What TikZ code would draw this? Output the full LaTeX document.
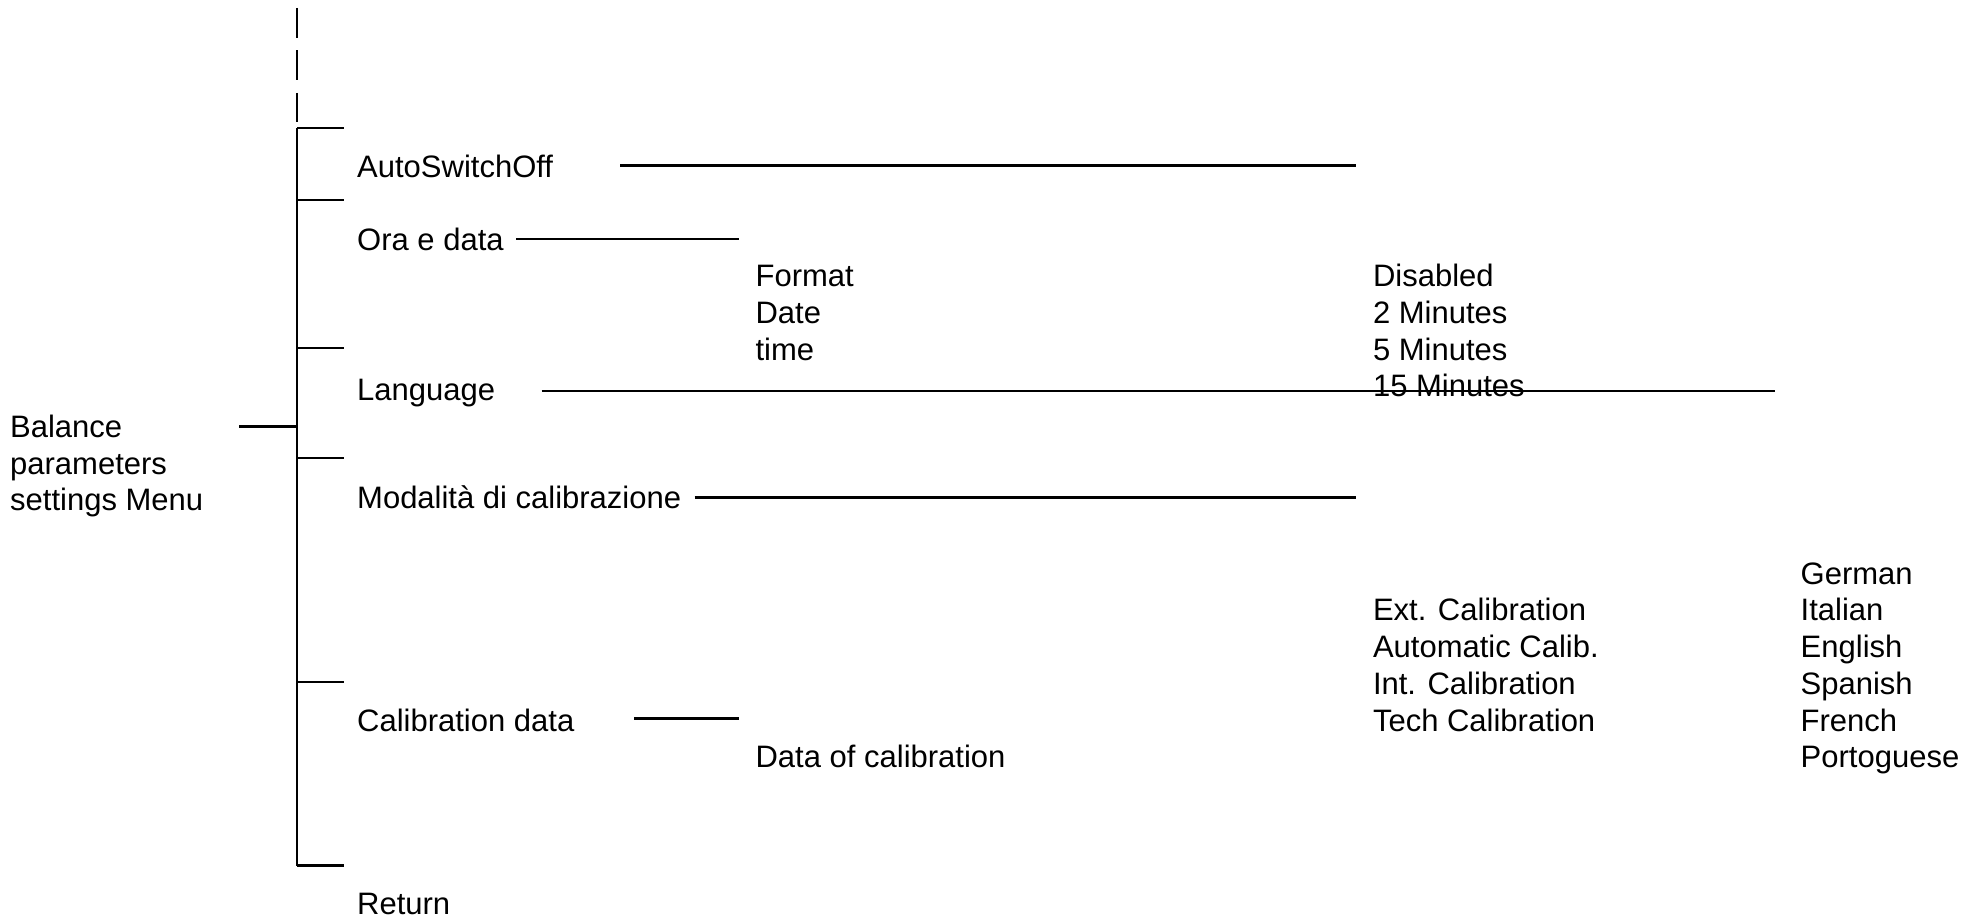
\documentclass[tikz,border=0pt]{standalone}
\usepackage{fontspec}
\setmainfont{Liberation Sans}
\begin{document}
\begin{tikzpicture}[x=1pt,y=-1pt,
  lbl/.style={anchor=base west,inner sep=0pt,font=\fontsize{31}{36.7}\selectfont},
  conn/.style={line width=2.6pt,black}]
\useasboundingbox (0,0) rectangle (1984,923);

% root
\node[lbl] (root1) at (10,437.4) {Balance};
\node[lbl] (root2) at (10,474.1) {parameters};
\node[lbl] (root3) at (10,510.8) {settings Menu};

% main items
\node[lbl] (auto) at (357,177) {AutoSwitchOff};
\node[lbl] (ora) at (357,250) {Ora e data};
\node[lbl] (lang) at (357,400.7) {Language};
\node[lbl] (moda) at (357,508.3) {Modalità di calibrazione};
\node[lbl] (cald) at (357,731) {Calibration data};
\node[lbl] (ret) at (357,914.4) {Return};

% sub lists
\foreach \t [count=\i] in {Format,Date,time}
  \node[lbl] (fmt-\i) at (755.4,{286.8+36.7*(\i-1)}) {\t};
\foreach \t [count=\i] in {Disabled,2 Minutes,5 Minutes,15 Minutes}
  \node[lbl] (off-\i) at (1372.8,{286.8+36.7*(\i-1)}) {\t};
\foreach \t [count=\i] in {Ext. Calibration,Automatic Calib.,Int. Calibration,Tech Calibration}
  \node[lbl] (cal-\i) at (1372.8,{620.9+36.7*(\i-1)}) {\t};
\foreach \t [count=\i] in {German,Italian,English,Spanish,French,Portoguese}
  \node[lbl] (lng-\i) at (1800.5,{584.2+36.7*(\i-1)}) {\t};
\node[lbl] (doc) at (755.4,767.7) {Data of calibration};

% dashed stem above bracket
\coordinate (dtop) at (297,8);
\coordinate (dbot) at (297,122);
\draw[conn,dash pattern=on 30pt off 12.5pt] (dtop) -- (dbot);

% bracket
\coordinate (btop) at (297,128);
\coordinate (bbot) at (297,865.5);
\draw[conn] (btop) -- (bbot);
\foreach \y [count=\i] in {128,200,348,458,682,865.5}{
  \coordinate (tk-\i) at (297,\y);
  \coordinate (te-\i) at (344,\y);
  \draw[conn] (tk-\i) -- (te-\i);
}

% root connector
\coordinate (rs) at (239,426.4);
\coordinate (re) at (297,426.4);
\draw[conn] (rs) -- (re);

% item connectors
\coordinate (a1) at (620,165.8);   \coordinate (a2) at (1356.4,165.8);
\coordinate (o1) at (516,239);     \coordinate (o2) at (739,239);
\coordinate (l1) at (541.5,391);   \coordinate (l2) at (1775,391);
\coordinate (m1) at (694.7,497.3); \coordinate (m2) at (1356.4,497.3);
\coordinate (c1) at (634,718.7);   \coordinate (c2) at (739,718.7);
\draw[conn] (a1) -- (a2);
\draw[conn] (o1) -- (o2);
\draw[conn] (l1) -- (l2);
\draw[conn] (m1) -- (m2);
\draw[conn] (c1) -- (c2);
\end{tikzpicture}
\end{document}
